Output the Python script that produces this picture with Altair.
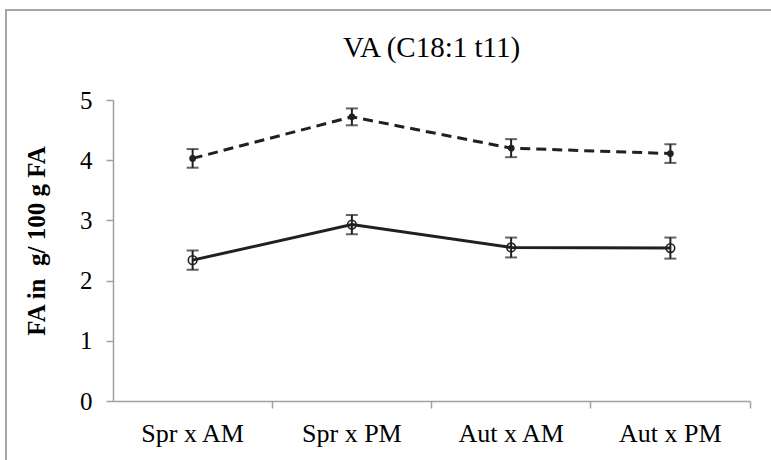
import altair as alt
import pandas as pd

# Treatment combinations (season x milking) on the x axis
categories = ["Spr x AM", "Spr x PM", "Aut x AM", "Aut x PM"]

# Upper series (dashed line, filled markers): mean and standard error
upper_means = [4.03, 4.72, 4.20, 4.11]
upper_errs = [0.155, 0.14, 0.15, 0.155]

# Lower series (solid line, open markers): mean and standard error
lower_means = [2.34, 2.93, 2.55, 2.54]
lower_errs = [0.16, 0.16, 0.165, 0.175]

y_ticks = [0, 1, 2, 3, 4, 5]
chart_title = "VA (C18:1 t11)"
y_title = "FA in\u00a0 g/ 100 g FA"

rows = []
for name, means, errs in [("upper", upper_means, upper_errs),
                          ("lower", lower_means, lower_errs)]:
    for cat, m, e in zip(categories, means, errs):
        rows.append({"series": name, "cat": cat, "mean": m,
                     "lo": m - e, "hi": m + e})
df = pd.DataFrame(rows)

INK = "#231f20"
AXIS_GREY = "#a0a0a0"
SERIF = "Liberation Serif"
W, H = 637, 301

# Ticks sit on the band edges, labels stay at the band centres
x_enc = alt.X(
    "cat:N",
    sort=categories,
    scale=alt.Scale(paddingInner=0, paddingOuter=0),
    axis=alt.Axis(
        title=None,
        bandPosition=1,
        labelAngle=0,
        labelFont=SERIF,
        labelFontSize=26,
        labelColor="black",
        labelPadding=12,
        tickSize=7,
        tickColor=AXIS_GREY,
        tickWidth=1.5,
        domainColor=AXIS_GREY,
        domainWidth=1.5,
        grid=False,
    ),
)

y_scale = alt.Scale(domain=[0, 5])
y_axis = alt.Axis(
    title=y_title,
    titleFont=SERIF,
    titleFontSize=25,
    titleFontWeight="bold",
    titleColor="black",
    titlePadding=30,
    titleY=H / 2 - 10,
    values=y_ticks,
    format="d",
    labelFont=SERIF,
    labelFontSize=25,
    labelColor="black",
    labelPadding=14,
    tickSize=7,
    tickColor=AXIS_GREY,
    tickWidth=1.5,
    domainColor=AXIS_GREY,
    domainWidth=1.5,
    grid=False,
)

base = alt.Chart(df)

# Outer frame around the figure
frame = base.mark_rect(
    fill=None, stroke="#a6a6a6", strokeWidth=2
).encode(
    x=alt.value(-107), x2=alt.value(900),
    y=alt.value(-90), y2=alt.value(600),
)

# Chart heading, centred over the plot area
heading = alt.Chart(alt.Data(values=[{"t": chart_title}])).mark_text(
    font=SERIF, fontSize=29, color="black", baseline="middle", align="center"
).encode(text="t:N", x=alt.value(W / 2), y=alt.value(-52))

upper = base.transform_filter(alt.datum.series == "upper")
lower = base.transform_filter(alt.datum.series == "lower")

upper_line = upper.mark_line(
    color=INK, strokeWidth=3, strokeDash=[10, 6]
).encode(x=x_enc, y=alt.Y("mean:Q", scale=y_scale, axis=y_axis))

lower_line = lower.mark_line(
    color=INK, strokeWidth=3
).encode(x=x_enc, y=alt.Y("mean:Q", scale=y_scale, axis=y_axis))

err_rule = base.mark_rule(color=INK, strokeWidth=2).encode(
    x=x_enc, y=alt.Y("lo:Q", scale=y_scale), y2="hi:Q"
)
cap_lo = base.mark_tick(color=INK, size=12, thickness=2, orient="horizontal").encode(
    x=x_enc, y=alt.Y("lo:Q", scale=y_scale)
)
cap_hi = base.mark_tick(color=INK, size=12, thickness=2, orient="horizontal").encode(
    x=x_enc, y=alt.Y("hi:Q", scale=y_scale)
)

upper_pts = upper.mark_point(
    shape="circle", filled=True, color=INK, size=45, opacity=1
).encode(x=x_enc, y=alt.Y("mean:Q", scale=y_scale))

lower_pts = lower.mark_point(
    shape="circle", filled=False, stroke=INK,
    strokeWidth=1.6, size=75, opacity=1
).encode(x=x_enc, y=alt.Y("mean:Q", scale=y_scale))

chart = alt.layer(
    frame, heading, upper_line, lower_line, err_rule, cap_lo, cap_hi,
    upper_pts, lower_pts
).properties(
    width=W,
    height=H,
    autosize=alt.AutoSizeParams(type="none"),
    padding={"left": 113, "top": 100, "right": 21, "bottom": 59},
    background="white",
).configure_view(stroke=None)

chart.save("out.html", embed_options={"renderer": "svg", "actions": False})
